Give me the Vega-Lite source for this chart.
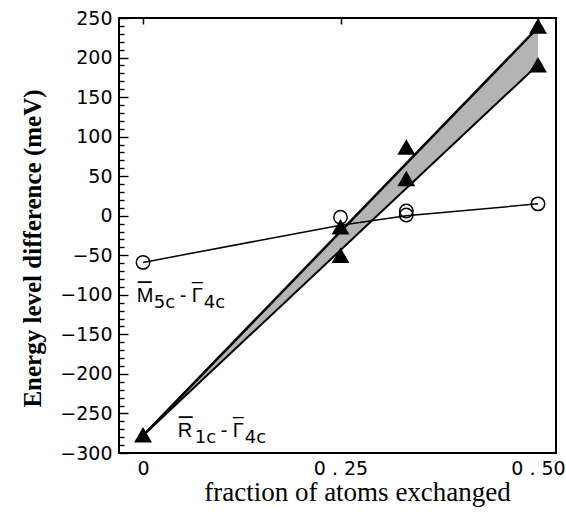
{
  "$schema": "https://vega.github.io/schema/vega-lite/v6.json",
  "width": 437,
  "height": 435,
  "autosize": {"type": "none"},
  "padding": {"left": 119, "top": 18, "right": 10, "bottom": 63},
  "background": "white",
  "config": {
    "view": {"stroke": "black", "strokeWidth": 2},
    "axis": {"domain": false, "ticks": false, "grid": true, "gridColor": "black", "gridOpacity": 1, "labelColor": "black", "titleColor": "black"}
  },
  "datasets": {
    "band": [
      {"x": 0, "hi": -278, "lo": -278},
      {"x": 0.5, "hi": 238, "lo": 191}
    ],
    "mline": [
      {"x": 0, "y": -59},
      {"x": 0.25, "y": -12},
      {"x": 0.3333, "y": 0},
      {"x": 0.5, "y": 15}
    ],
    "circles": [
      {"x": 0, "y": -59},
      {"x": 0.25, "y": -2},
      {"x": 0.3333, "y": 6},
      {"x": 0.3333, "y": 1},
      {"x": 0.5, "y": 15}
    ],
    "triangles": [
      {"x": 0, "y": -277},
      {"x": 0.25, "y": -14},
      {"x": 0.25, "y": -50},
      {"x": 0.3333, "y": 87},
      {"x": 0.3333, "y": 47},
      {"x": 0.5, "y": 240},
      {"x": 0.5, "y": 191}
    ],
    "labels": [
      {"x": -0.008, "y": -109, "a": "M", "b": "5c", "c": "Γ", "d": "4c"},
      {"x": 0.044, "y": -280, "a": "R", "b": "1c", "c": "Γ", "d": "4c"}
    ]
  },
  "layer": [
    {
      "data": {"name": "band"},
      "mark": {"type": "area", "color": "#b4b4b4", "opacity": 1},
      "encoding": {
        "x": {"field": "x", "type": "quantitative",
          "scale": {"domain": [-0.0304, 0.5228], "nice": false, "zero": false},
          "axis": {"orient": "bottom", "values": [0, 0.25, 0.5],
            "labelExpr": "datum.value == 0 ? '0' : (datum.value == 0.25 ? '0 . 25' : '0 . 50')",
            "gridDash": [6, 2000], "gridWidth": 1.5, "labelPadding": 6,
            "labelFont": "DejaVu Sans", "labelFontSize": 19,
            "title": "fraction of atoms exchanged", "titleFont": "Liberation Serif",
            "titleFontSize": 27, "titleFontWeight": "normal", "titlePadding": 1, "titleX": 238}},
        "y": {"field": "hi", "type": "quantitative",
          "scale": {"domain": [-300, 250], "nice": false, "zero": false},
          "axis": {"orient": "left",
            "values": [-300,-290,-280,-270,-260,-250,-240,-230,-220,-210,-200,-190,-180,-170,-160,-150,-140,-130,-120,-110,-100,-90,-80,-70,-60,-50,-40,-30,-20,-10,0,10,20,30,40,50,60,70,80,90,100,110,120,130,140,150,160,170,180,190,200,210,220,230,240,250],
            "labelExpr": "datum.value % 50 === 0 ? datum.label : ''",
            "gridDash": {"condition": {"test": "datum.value % 50 === 0", "value": [9, 2000]}, "value": [5, 2000]},
            "gridWidth": 1.4, "labelPadding": 7,
            "labelFont": "DejaVu Sans", "labelFontSize": 19,
            "title": "Energy level difference (meV)", "titleFont": "Liberation Serif",
            "titleFontSize": 25, "titleFontWeight": "bold", "titlePadding": 14, "titleY": 230}},
        "y2": {"field": "lo"}
      }
    },
    {
      "data": {"name": "band"},
      "mark": {"type": "line", "color": "black", "strokeWidth": 2.5},
      "encoding": {
        "x": {"field": "x", "type": "quantitative",
          "scale": {"domain": [-0.0304, 0.5228], "nice": false, "zero": false},
          "axis": {"orient": "top", "values": [0, 0.25, 0.5], "labels": false, "gridDash": [6, 2000], "gridWidth": 1.5, "title": null}},
        "y": {"field": "hi", "type": "quantitative",
          "scale": {"domain": [-300, 250], "nice": false, "zero": false},
          "axis": {"orient": "right",
            "values": [-300,-290,-280,-270,-260,-250,-240,-230,-220,-210,-200,-190,-180,-170,-160,-150,-140,-130,-120,-110,-100,-90,-80,-70,-60,-50,-40,-30,-20,-10,0,10,20,30,40,50,60,70,80,90,100,110,120,130,140,150,160,170,180,190,200,210,220,230,240,250],
            "labels": false,
            "gridDash": {"condition": {"test": "datum.value % 50 === 0", "value": [9, 2000]}, "value": [5, 2000]},
            "gridWidth": 1.4, "title": null}}
      }
    },
    {
      "data": {"name": "band"},
      "mark": {"type": "line", "color": "black", "strokeWidth": 2},
      "encoding": {
        "x": {"field": "x", "type": "quantitative", "scale": {"domain": [-0.0304, 0.5228], "nice": false, "zero": false}, "axis": null},
        "y": {"field": "lo", "type": "quantitative", "scale": {"domain": [-300, 250], "nice": false, "zero": false}, "axis": null}
      }
    },
    {
      "mark": {"type": "rule", "color": "black", "strokeWidth": 1.5, "strokeDash": [4, 4]},
      "encoding": {
        "y": {"datum": 0, "type": "quantitative", "scale": {"domain": [-300, 250], "nice": false, "zero": false}, "axis": null}
      }
    },
    {
      "data": {"name": "mline"},
      "mark": {"type": "line", "color": "black", "strokeWidth": 1.5},
      "encoding": {
        "x": {"field": "x", "type": "quantitative", "scale": {"domain": [-0.0304, 0.5228], "nice": false, "zero": false}, "axis": null},
        "y": {"field": "y", "type": "quantitative", "scale": {"domain": [-300, 250], "nice": false, "zero": false}, "axis": null}
      }
    },
    {
      "data": {"name": "triangles"},
      "mark": {"type": "point", "shape": "triangle-up", "filled": true, "color": "black", "size": 320, "opacity": 1},
      "encoding": {
        "x": {"field": "x", "type": "quantitative", "scale": {"domain": [-0.0304, 0.5228], "nice": false, "zero": false}, "axis": null},
        "y": {"field": "y", "type": "quantitative", "scale": {"domain": [-300, 250], "nice": false, "zero": false}, "axis": null}
      }
    },
    {
      "data": {"name": "circles"},
      "mark": {"type": "point", "shape": "circle", "filled": false, "color": "black", "size": 180, "strokeWidth": 1.5, "opacity": 1},
      "encoding": {
        "x": {"field": "x", "type": "quantitative", "scale": {"domain": [-0.0304, 0.5228], "nice": false, "zero": false}, "axis": null},
        "y": {"field": "y", "type": "quantitative", "scale": {"domain": [-300, 250], "nice": false, "zero": false}, "axis": null}
      }
    },
    {
      "data": {"name": "labels"},
      "encoding": {
        "x": {"field": "x", "type": "quantitative", "scale": {"domain": [-0.0304, 0.5228], "nice": false, "zero": false}, "axis": null},
        "y": {"field": "y", "type": "quantitative", "scale": {"domain": [-300, 250], "nice": false, "zero": false}, "axis": null}
      },
      "layer": [
        {"mark": {"type": "text", "align": "left", "baseline": "alphabetic", "font": "Liberation Sans", "fontSize": 20, "color": "black"},
         "encoding": {"text": {"field": "a"}}},
        {"mark": {"type": "text", "align": "left", "baseline": "alphabetic", "font": "Liberation Sans", "fontSize": 25, "color": "black", "dx": 1, "dy": -13, "text": "–"}},
        {"mark": {"type": "text", "align": "left", "baseline": "alphabetic", "font": "DejaVu Sans", "fontSize": 18, "color": "black", "dx": 17, "dy": 6},
         "encoding": {"text": {"field": "b"}}},
        {"mark": {"type": "text", "align": "left", "baseline": "alphabetic", "font": "Liberation Sans", "fontSize": 20, "color": "black", "dx": 43, "text": "-"}},
        {"mark": {"type": "text", "align": "left", "baseline": "alphabetic", "font": "Liberation Sans", "fontSize": 20, "color": "black", "dx": 55},
         "encoding": {"text": {"field": "c"}}},
        {"mark": {"type": "text", "align": "left", "baseline": "alphabetic", "font": "Liberation Sans", "fontSize": 20, "color": "black", "dx": 55, "dy": -14, "text": "–"}},
        {"mark": {"type": "text", "align": "left", "baseline": "alphabetic", "font": "DejaVu Sans", "fontSize": 18, "color": "black", "dx": 67, "dy": 6},
         "encoding": {"text": {"field": "d"}}}
      ]
    }
  ],
  "resolve": {"axis": {"x": "independent", "y": "independent"}}
}
